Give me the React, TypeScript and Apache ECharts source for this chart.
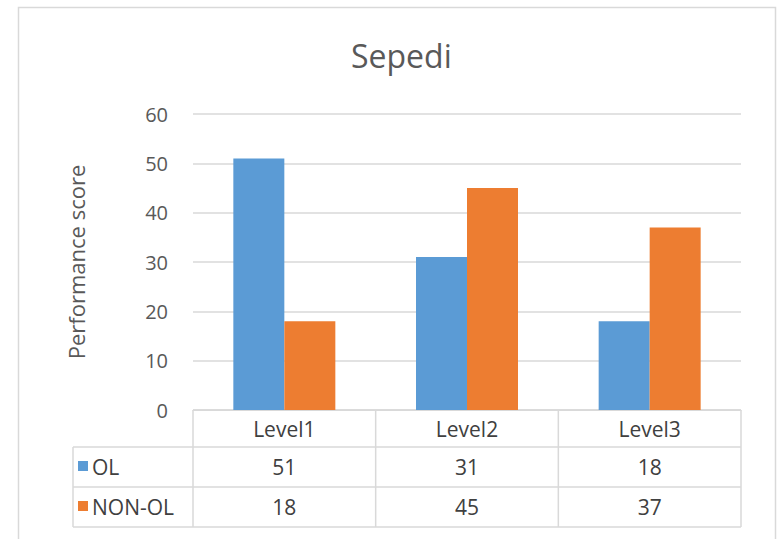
import React, { useEffect, useRef } from "react";
import * as echarts from "echarts";

const title = "Sepedi";
const yAxisName = "Performance score";
const categories = ["Level1", "Level2", "Level3"];
const seriesNames = ["OL", "NON-OL"];
const olValues = [51, 31, 18];
const nonOlValues = [18, 45, 37];
const seriesValues = [olValues, nonOlValues];
const seriesColors = ["#5B9BD5", "#ED7D31"];
const yMin = 0;
const yMax = 60;
const yInterval = 10;

const FONT = "'Open Sans', 'Noto Sans', sans-serif";
const GRID_COLOR = "#D9D9D9";

export default function App() {
  const ref = useRef<HTMLDivElement>(null);
  useEffect(() => {
    if (!ref.current) return;
    const chart = echarts.init(ref.current, null, { renderer: "svg" });
    chart.setOption({
      animation: false,
      backgroundColor: "#ffffff",
      title: {
        text: title,
        left: 346,
        top: 34,
        textStyle: { fontFamily: FONT, fontSize: 32, fontWeight: "normal", color: "#595959" },
      },
      grid: { left: 193, right: 36, top: 114, bottom: 129 },
      xAxis: {
        type: "category",
        data: categories,
        axisLine: { show: true, lineStyle: { color: GRID_COLOR, width: 1 } },
        axisTick: { show: false },
        axisLabel: { show: false },
      },
      yAxis: {
        type: "value",
        min: yMin,
        max: yMax,
        interval: yInterval,
        name: yAxisName,
        nameLocation: "middle",
        nameGap: 106,
        nameTextStyle: { fontFamily: FONT, fontSize: 22, color: "#595959" },
        axisLine: { show: false },
        axisTick: { show: false },
        axisLabel: { fontFamily: FONT, fontSize: 20, color: "#595959", margin: 25 },
        splitLine: { lineStyle: { color: GRID_COLOR, width: 1.5 } },
      },
      series: seriesNames.map((name, i) => ({
        type: "bar",
        name,
        data: seriesValues[i],
        barWidth: 51,
        barGap: "0%",
        itemStyle: { color: seriesColors[i] },
      })),
    });

    // data table below the plot, positioned from the axes' own scales
    const c0 = chart.convertToPixel({ xAxisIndex: 0 }, categories[0]) as number;
    const c1 = chart.convertToPixel({ xAxisIndex: 0 }, categories[1]) as number;
    const band = c1 - c0;
    const yZero = chart.convertToPixel({ yAxisIndex: 0 }, yMin) as number;
    const leftEdge = c0 - band / 2;
    const rightEdge = leftEdge + band * categories.length;
    const tableLeft = 73;
    const headerH = 37;
    const rowH = 40;
    const rowsTop = yZero + headerH;
    const tableBottom = rowsTop + rowH * seriesNames.length;
    const lineStyle = { stroke: GRID_COLOR, lineWidth: 1.5 };
    const tableFont = `21px ${FONT}`;
    const els: any[] = [];
    // frame
    els.push({
      type: "rect",
      shape: { x: 18.5, y: 7.5, width: 757, height: 560 },
      style: { fill: "none", stroke: GRID_COLOR, lineWidth: 1.5 },
      silent: true,
    });
    // horizontal lines
    els.push({ type: "line", shape: { x1: leftEdge, y1: yZero, x2: rightEdge, y2: yZero }, style: lineStyle });
    for (let r = 0; r <= seriesNames.length; r++) {
      const y = rowsTop + r * rowH;
      els.push({ type: "line", shape: { x1: tableLeft, y1: y, x2: rightEdge, y2: y }, style: lineStyle });
    }
    // vertical lines
    for (let k = 0; k <= categories.length; k++) {
      const x = leftEdge + k * band;
      els.push({ type: "line", shape: { x1: x, y1: yZero, x2: x, y2: tableBottom }, style: lineStyle });
    }
    els.push({ type: "line", shape: { x1: tableLeft, y1: rowsTop, x2: tableLeft, y2: tableBottom }, style: lineStyle });
    // header texts
    categories.forEach((cat) => {
      const cx = chart.convertToPixel({ xAxisIndex: 0 }, cat) as number;
      els.push({
        type: "text",
        x: cx,
        y: yZero + headerH / 2,
        style: { text: cat, fill: "#404040", font: tableFont, align: "center", verticalAlign: "middle" },
      });
    });
    // rows
    seriesNames.forEach((name, r) => {
      const cy = rowsTop + r * rowH + rowH / 2;
      els.push({ type: "rect", shape: { x: 78, y: cy - 6, width: 10, height: 10 }, style: { fill: seriesColors[r] } });
      els.push({
        type: "text",
        x: 92,
        y: cy,
        style: { text: name, fill: "#404040", font: tableFont, align: "left", verticalAlign: "middle" },
      });
      categories.forEach((cat, k) => {
        const cx = chart.convertToPixel({ xAxisIndex: 0 }, cat) as number;
        els.push({
          type: "text",
          x: cx,
          y: cy,
          style: {
            text: String(seriesValues[r][k]),
            fill: "#404040",
            font: tableFont,
            align: "center",
            verticalAlign: "middle",
          },
        });
      });
    });
    chart.setOption({ graphic: { elements: els } });
    return () => chart.dispose();
  }, []);
  return <div ref={ref} style={{ position: "fixed", left: 0, top: 0, width: 777, height: 539 }} />;
}
